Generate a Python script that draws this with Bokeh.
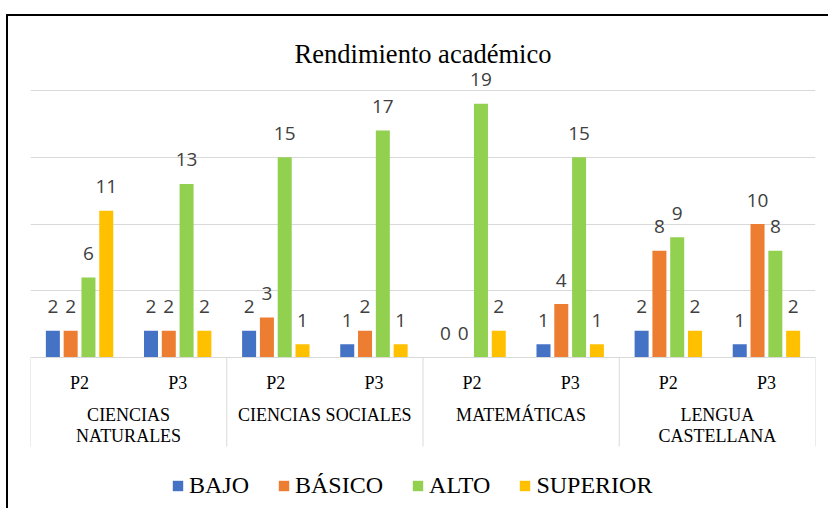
from bokeh.plotting import figure
from bokeh.models import (ColumnDataSource, Range1d, Grid, FixedTicker, Legend,
                          LegendItem)
from bokeh.core.properties import value
from bokeh.embed import file_html
from bokeh.resources import INLINE

# ---------------- data ----------------
subjects = ["CIENCIAS NATURALES", "CIENCIAS SOCIALES", "MATEMÁTICAS", "LENGUA CASTELLANA"]
subject_lines = [["CIENCIAS", "NATURALES"], ["CIENCIAS SOCIALES"], ["MATEMÁTICAS"], ["LENGUA", "CASTELLANA"]]
periods = ["P2", "P3"]
series = ["BAJO", "BÁSICO", "ALTO", "SUPERIOR"]
bajo = [2, 2, 2, 1, 0, 1, 2, 1]
basico = [2, 2, 3, 2, 0, 4, 8, 10]
alto = [6, 13, 15, 17, 19, 15, 9, 8]
superior = [11, 2, 1, 1, 2, 1, 2, 2]
colors = ["#4472C4", "#ED7D31", "#92D050", "#FFC000"]
y_ticks = [0, 5, 10, 15, 20]

SERIF = "Liberation Serif"

# ---------------- layout ----------------
OX, OY = 8, 16                   # page offset of the canvas (after border)
W, H = 830 - OX, 510 - OY
BL, BR, BT, BB = 30 - OX, W - (815 - OX), 69 - OY, 2
FRAME_H = H - BT - BB
PXY = 13.35                      # pixels per unit on y
Y_TOP = 20 + (90 - 69) / PXY
Y_BOT = Y_TOP - FRAME_H / PXY
N_SUB = len(subjects) * len(periods)
PXX = (W - BL - BR) / N_SUB      # pixels per sub-category
BASE_PAGE = 357                  # page y of value 0


def page_y(py):
    return (BASE_PAGE - py) / PXY


p = figure(width=W, height=H, output_backend="svg", toolbar_location=None,
           x_range=Range1d(0, N_SUB), y_range=Range1d(Y_BOT, Y_TOP),
           x_axis_type=None, y_axis_type=None,
           min_border_left=BL, min_border_right=BR,
           min_border_top=BT, min_border_bottom=BB)
p.outline_line_color = None
p.background_fill_color = "white"
p.border_fill_color = "white"
p.styles = {"margin-left": f"{OX}px", "margin-top": f"{OY}px",
            "box-shadow": "-2px -2px 0px 0px black"}

p.title.text = "Rendimiento académico"
p.title.text_font = SERIF
p.title.text_font_size = "26.5px"
p.title.text_font_style = "normal"
p.title.text_color = "black"
p.title.align = "center"
p.title.standoff = 2

grid = Grid(dimension=1, ticker=FixedTicker(ticks=y_ticks),
            grid_line_color="#d9d9d9", grid_line_width=1)
p.add_layout(grid)

# ---------------- bars ----------------
pitch = 17.8 / PXX
bar_w = 14 / PXX
all_vals = [bajo, basico, alto, superior]
renderers = []
lab_x, lab_y, lab_t = [], [], []
for k, (name, vals, col) in enumerate(zip(series, all_vals, colors)):
    xs = [i + 0.5 + (k - 1.5) * pitch for i in range(N_SUB)]
    src = ColumnDataSource(dict(x=xs, top=vals))
    r = p.vbar(x="x", top="top", bottom=0, width=bar_w, source=src,
               fill_color=col, line_color=None)
    renderers.append(r)
    lab_x += xs
    lab_y += vals
    lab_t += [str(v) for v in vals]

p.text(x=lab_x, y=lab_y, text=lab_t, y_offset=-24, text_align="center",
       text_baseline="alphabetic", text_font=value("Open Sans"),
       text_font_size="19px", text_color="#404040")

# ---------------- category axis (drawn) ----------------
sep_x = [2 * j for j in range(len(subjects) + 1)]
p.segment(x0=sep_x, y0=[0] * len(sep_x), x1=sep_x, y1=[page_y(446)] * len(sep_x),
          line_color="#d9d9d9", line_width=1)
p.segment(x0=[0], y0=[0], x1=[N_SUB], y1=[0], line_color="#d9d9d9", line_width=1)

sub_x = [i + 0.5 for i in range(N_SUB)]
sub_t = [periods[i % len(periods)] for i in range(N_SUB)]
p.text(x=sub_x, y=[page_y(382)] * N_SUB, text=sub_t, text_align="center",
       text_baseline="alphabetic", text_font=value(SERIF),
       text_font_size="18px", text_color="black")

cx, cy, ct = [], [], []
for j, lines in enumerate(subject_lines):
    for li, line in enumerate(lines):
        cx.append(2 * j + 1)
        cy.append(page_y(414.5 + 21 * li))
        ct.append(line)
p.text(x=cx, y=cy, text=ct, text_align="center", text_baseline="alphabetic",
       text_font=value(SERIF), text_font_size="18px", text_color="black")

# ---------------- legend ----------------
legend = Legend(items=[LegendItem(label=s, renderers=[r]) for s, r in zip(series, renderers)],
                orientation="horizontal", location=(141, 9),
                glyph_width=13, glyph_height=13, label_standoff=5, spacing=28,
                padding=0, margin=0, border_line_alpha=0, background_fill_alpha=0,
                label_text_font=SERIF, label_text_font_size="24px",
                label_text_color="black")
p.add_layout(legend)

open("out.html", "w").write(file_html(p, INLINE))
